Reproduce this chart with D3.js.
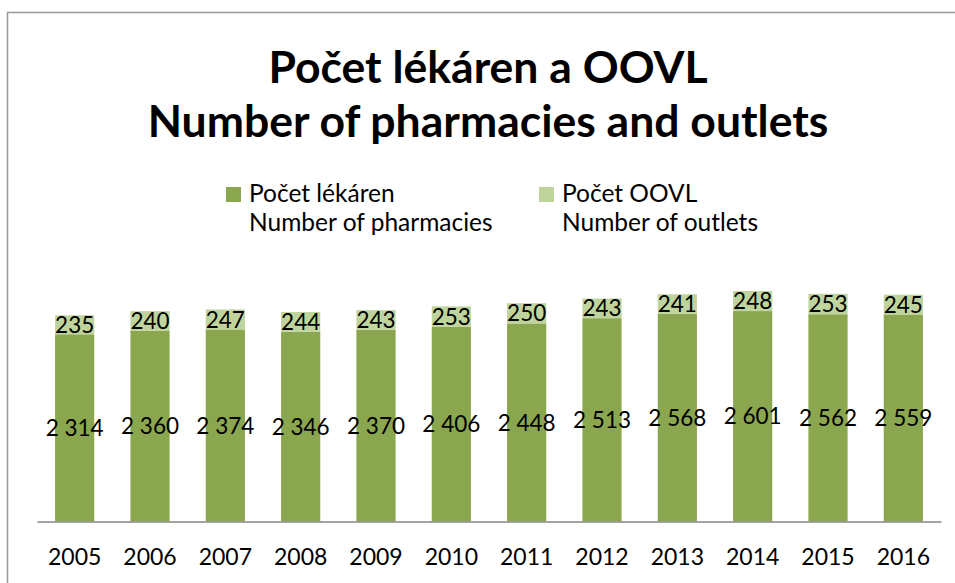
<!DOCTYPE html>
<meta charset="utf-8">
<style>
  body, html { margin:0; padding:0; background:#fff; }
  text { font-family: Lato, "Open Sans", sans-serif; fill:#000; }
</style>
<body>
<svg width="955" height="583"></svg>
<script src="https://d3js.org/d3.v7.min.js"></script>
<script>

var years = ["2005","2006","2007","2008","2009","2010","2011","2012","2013","2014","2015","2016"];
var pharmacies = [2314, 2360, 2374, 2346, 2370, 2406, 2448, 2513, 2568, 2601, 2562, 2559];
var outlets = [235, 240, 247, 244, 243, 253, 250, 243, 241, 248, 253, 245];
var seriesNames = [["Počet lékáren", "Number of pharmacies"], ["Počet OOVL", "Number of outlets"]];
var colors = ["#8AA64E", "#BFD49C"];

var svg = d3.select("svg");

// chart frame (right & bottom edges run off the picture)
svg.append("rect")
    .attr("x", 7.5).attr("y", 12.5)
    .attr("width", 1000).attr("height", 1000)
    .attr("fill", "none")
    .attr("stroke", "#999")
    .attr("stroke-width", 1.5);

// title
var title = svg.append("text")
    .attr("text-anchor", "middle")
    .style("font-weight", "bold")
    .style("font-size", "44.5px");
title.append("tspan").attr("x", 488).attr("y", 83).text("Počet lékáren a OOVL");
title.append("tspan").attr("x", 488).attr("y", 137).text("Number of pharmacies and outlets");

// legend
var legendX = [226, 539];
var legend = svg.selectAll(".legend")
    .data(seriesNames)
    .enter().append("g")
    .attr("class", "legend")
    .attr("transform", function(d, i) { return "translate(" + legendX[i] + ",0)"; });

legend.append("rect")
    .attr("x", 0).attr("y", 187)
    .attr("width", 15).attr("height", 15)
    .attr("fill", function(d, i) { return colors[i]; });

legend.append("text")
    .attr("x", 23).attr("y", 201.5)
    .style("font-size", "24.5px")
    .text(function(d) { return d[0]; });

legend.append("text")
    .attr("x", 23).attr("y", 231)
    .style("font-size", "24.5px")
    .text(function(d) { return d[1]; });

// scales
var x = d3.scaleBand()
    .domain(years)
    .range([37, 941])
    .paddingInner(0.48)
    .paddingOuter(0.24);

var y = d3.scaleLinear()
    .domain([0, 3000])
    .range([521.5, 278.8]);

var rows = years.map(function(yr, i) {
    return { year: yr, pharmacies: pharmacies[i], outlets: outlets[i] };
});
var stacked = d3.stack().keys(["pharmacies", "outlets"])(rows);

var fmt = function(v) { return d3.format(",")(v).replace(",", " "); };

var series = svg.selectAll(".series")
    .data(stacked)
    .enter().append("g")
    .attr("class", "series")
    .attr("fill", function(d, i) { return colors[i]; });

series.selectAll("rect")
    .data(function(d) { return d; })
    .enter().append("rect")
    .attr("x", function(d) { return x(d.data.year); })
    .attr("y", function(d) { return y(d[1]); })
    .attr("width", x.bandwidth())
    .attr("height", function(d) { return y(d[0]) - y(d[1]); });

series.selectAll("text")
    .data(function(d) { return d; })
    .enter().append("text")
    .attr("x", function(d) { return x(d.data.year) + x.bandwidth() / 2; })
    .attr("y", function(d) { return (y(d[0]) + y(d[1])) / 2; })
    .attr("dy", "0.36em")
    .attr("text-anchor", "middle")
    .style("font-size", "22.5px")
    .text(function(d) { return fmt(d[1] - d[0]); });

// x axis
var xAxis = svg.append("g")
    .attr("transform", "translate(0,521.5)")
    .call(d3.axisBottom(x).tickSize(0).tickPadding(27));

xAxis.select(".domain").attr("stroke", "#868686").attr("stroke-width", 1.5);
xAxis.selectAll(".tick text")
    .style("font-family", "Lato, sans-serif")
    .style("font-size", "23px")
    .attr("fill", "#000");

</script>
</body>
